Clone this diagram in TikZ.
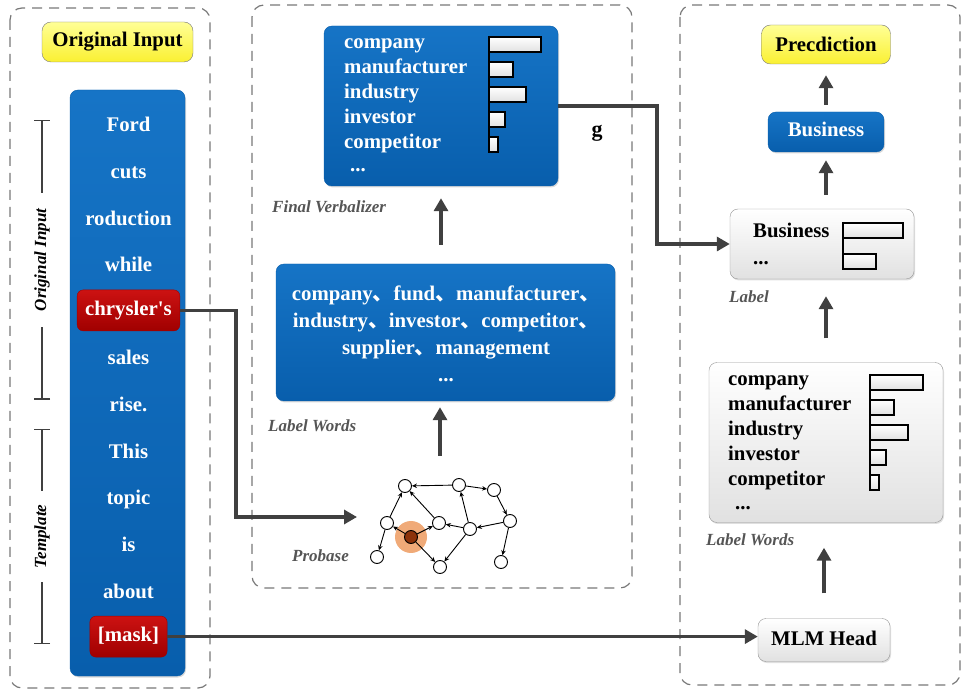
\documentclass[tikz,border=0pt]{standalone}
\usepackage{fontspec}
\setmainfont{Liberation Serif}
\newfontfamily\cjk{Noto Sans CJK SC}
\usepackage{tikz}
\usetikzlibrary{arrows.meta}
\usetikzlibrary{shadows}
\newcommand{\dun}{{\cjk 、}}
\definecolor{cb}{RGB}{64,64,64}
\definecolor{cd}{RGB}{120,120,120}
\definecolor{cl}{RGB}{85,85,85}
\definecolor{bt}{RGB}{22,116,198}
\definecolor{bb}{RGB}{8,94,172}
\definecolor{rt}{RGB}{204,18,18}
\definecolor{rb}{RGB}{160,0,0}
\definecolor{yt}{RGB}{255,255,150}
\definecolor{yb}{RGB}{250,240,50}
\definecolor{gt}{RGB}{150,150,150}
\definecolor{cg}{RGB}{225,225,225}
\definecolor{co}{RGB}{240,170,120}
\definecolor{cn}{RGB}{140,50,10}
\tikzstyle{panel}=[draw=cd, line width=1.2pt, dash pattern=on 10pt off 7pt, rounded corners=12pt]
\tikzstyle{bluebox}=[draw=bb, top color=bt, bottom color=bb, rounded corners=8pt, inner sep=0pt, drop shadow={opacity=0.3, shadow xshift=1pt, shadow yshift=-1.5pt}]
\tikzstyle{ybox}=[draw=cd, top color=yt, bottom color=yb, rounded corners=9pt, font=\fontsize{20.8}{24}\selectfont\bfseries]
\tikzstyle{lbox}=[draw=gt, top color=white, bottom color=cg, rounded corners=8pt, inner sep=0pt, drop shadow={opacity=0.25, shadow xshift=1pt, shadow yshift=-1.5pt}]
\tikzstyle{wtxt}=[text=white, font=\fontsize{20.8}{24}\selectfont\bfseries, inner sep=0pt, text height=18pt, text depth=2pt]
\tikzstyle{btxt}=[text=black, font=\fontsize{20.8}{24}\selectfont\bfseries, inner sep=0pt, text height=18pt, text depth=2pt]
\tikzstyle{boxtxt}=[text height=14.5pt, text depth=4.5pt]
\tikzstyle{mk}=[wtxt, boxtxt, draw=rb, top color=rt, bottom color=rb, rounded corners=6pt, minimum height=41pt, inner xsep=8pt]
\tikzstyle{tag}=[text=cl, font=\fontsize{17}{20}\selectfont\bfseries\itshape, inner sep=0pt, anchor=west]
\tikzstyle{brk}=[cb, line width=1.5pt, {Bar[width=16pt]}-{Bar[width=16pt]}]
\tikzstyle{bar}=[draw=black, line width=1.8pt, top color=white, bottom color=cg]
\tikzstyle{arrow}=[cb, line width=3.5pt, -{Triangle[length=13pt, width=14pt]}]
\tikzstyle{gnode}=[circle, draw=black, fill=white, line width=0.9pt, minimum size=13pt, inner sep=0pt]
\tikzstyle{gedge}=[black, line width=0.9pt, -{Stealth[length=5pt, width=4.5pt]}]

\begin{document}
\begin{tikzpicture}[x=1pt, y=-1pt]
  \useasboundingbox (0,0) rectangle (962,692);
  % panels
  \draw[panel] (10,8) rectangle (210,688);
  \draw[panel] (252,5) rectangle (632,588);
  \draw[panel] (680,5) rectangle (960,685);

  % input column
  \node[ybox, minimum width=151pt, minimum height=40pt] (orig) at (117.5,42) {Original Input};
  \node[bluebox, minimum width=115pt, minimum height=586pt] (col) at (127.5,383) {};
  \foreach \t/\s [count=\i] in {Ford/wtxt, cuts/wtxt, roduction/wtxt, while/wtxt, chrysler\textquotesingle s/mk, sales/wtxt,
      rise./wtxt, This/wtxt, topic/wtxt, is/wtxt, about/wtxt, [mask]/mk}
    \node[style=\s] (w-\i) at (128.5,{124+46.6*(\i-1)}) {\t};

  \coordinate (oi-t) at (42,120);
  \coordinate (oi-b) at (42,400);
  \coordinate (tp-t) at (42,429);
  \coordinate (tp-b) at (42,644);
  \draw[brk] (oi-t) -- node[tag, text=black, anchor=center, fill=white, rotate=90, inner xsep=16pt, inner ysep=2pt] (oi-l) {Original Input} (oi-b);
  \draw[brk] (tp-t) -- node[tag, text=black, anchor=center, fill=white, rotate=90, inner xsep=14pt, inner ysep=2pt] (tp-l) {Template} (tp-b);

  % verbalizer
  \node[bluebox, minimum width=234pt, minimum height=160pt] (fv) at (441,106) {};
  \foreach \t [count=\i] in {company,manufacturer,industry,investor,competitor}
    \node[wtxt, anchor=west] (fv-\i) at (344,{41+25*(\i-1)}) {\t};
  \node[wtxt, anchor=west] (fv-d) at (350,164) {...};
  \foreach \w [count=\i] in {52,24,37,16,9}
    \draw[bar] (489,{37+25*(\i-1)}) rectangle ++(\w,15);
  \draw[black, line width=2pt] (489,36) -- (489,152);
  \node[tag] (fv-l) at (272,207) {Final Verbalizer};
  \node[text=black, font=\fontsize{22}{24}\selectfont\bfseries, inner sep=0pt] (g) at (597,133) {g};

  \node[bluebox, minimum width=339pt, minimum height=137pt] (lw) at (445.5,332.5) {};
  \node[text=white, font=\fontsize{20.8}{27}\selectfont\bfseries, align=center, inner sep=0pt] (lw-t) at (446,334)
    {company\dun fund\dun manufacturer\dun\\ industry\dun investor\dun competitor\dun\\ supplier\dun management\\ ...};
  \node[tag] (lw-l) at (268,426) {Label Words};

  % probase
  \node[circle, fill=co, minimum size=32pt, inner sep=0pt] (halo) at (411,537) {};
  \foreach \n/\x/\y in {1/405/486, 2/459/485, 3/494/490, 4/387/523, 6/439/523, 7/470/529,
      8/510/521, 9/377/557, 10/440/567, 11/501/562}
    \node[gnode] (p-\n) at (\x,\y) {};
  \node[gnode, fill=cn] (p-5) at (411,537) {};
  \foreach \a/\b in {2/1, 2/3, 3/8, 8/7, 7/6, 7/2, 7/10, 6/1, 4/1, 5/4, 5/6, 5/10, 4/9, 8/11}
    \draw[gedge] (p-\a) -- (p-\b);
  \node[tag] (pb-l) at (292,556) {Probase};
  \coordinate (pb-in) at (357,517);
  \coordinate (pb-top) at (440,456);

  % prediction side
  \node[ybox, minimum width=129pt, minimum height=39pt] (pred) at (826,44.5) {Precdiction};
  \node[bluebox, wtxt, boxtxt, minimum width=116pt, minimum height=40pt] (bus) at (826,132) {Business};

  \node[lbox, minimum width=184pt, minimum height=70pt] (lab) at (822,244) {};
  \node[btxt, anchor=west] (lab-1) at (753,230) {Business};
  \node[btxt, anchor=west] (lab-2) at (753,257) {...};
  \draw[bar] (843,223) rectangle ++(60,15);
  \draw[bar] (843,254) rectangle ++(33,15);
  \draw[black, line width=2pt] (843,222) -- (843,270);
  \node[tag] (lab-l) at (729,297) {Label};

  \node[lbox, minimum width=234pt, minimum height=160pt] (rlw) at (826,442.5) {};
  \foreach \t [count=\i] in {company,manufacturer,industry,investor,competitor}
    \node[btxt, anchor=west] (rlw-\i) at (728,{378+25*(\i-1)}) {\t};
  \node[btxt, anchor=west] (rlw-d) at (735,502) {...};
  \foreach \w [count=\i] in {53,24,38,16,9}
    \draw[bar] (870,{375+25*(\i-1)}) rectangle ++(\w,15);
  \draw[black, line width=2pt] (870,374) -- (870,490);
  \node[tag] (rlw-l) at (706,540) {Label Words};

  \node[lbox, btxt, boxtxt, minimum width=132pt, minimum height=43pt] (mlm) at (824,640) {MLM Head};

  % connectors
  \draw[arrow] (w-5.east) -- ++(56,0) |- (pb-in);
  \draw[arrow] (w-12.east) -- (w-12.east -| mlm.west);
  \draw[arrow, shorten >=6pt] (pb-top) -- (pb-top |- lw.south);
  \draw[arrow, shorten <=19pt, shorten >=12pt] (fv.south |- lw.north) -- (fv.south);
  \draw[arrow] (fv.east) -- ++(99,0) |- (lab.west);
  \draw[arrow, shorten <=25pt, shorten >=25pt] (mlm.north) -- (mlm.north |- rlw.south);
  \draw[arrow, shorten <=24pt, shorten >=17pt] (rlw.north) -- (rlw.north |- lab.south);
  \draw[arrow, shorten <=14pt, shorten >=8pt] (lab.north -| bus.south) -- (bus.south);
  \draw[arrow, shorten <=7pt, shorten >=11pt] (bus.north) -- (pred.south);
\end{tikzpicture}
\end{document}
